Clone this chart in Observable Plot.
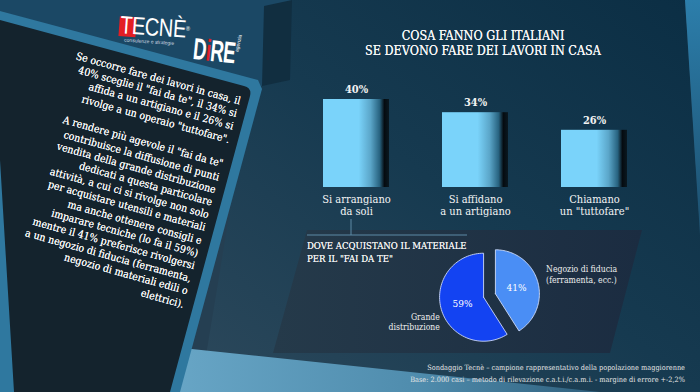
<!DOCTYPE html>
<html><head><meta charset="utf-8">
<script src="https://cdn.jsdelivr.net/npm/d3@7"></script>
<script src="https://cdn.jsdelivr.net/npm/@observablehq/plot@0.6"></script>
<style>
html,body{margin:0;padding:0;background:#223d50;}
#root{position:relative;width:700px;height:392px;overflow:hidden;font-family:"DejaVu Serif Condensed","DejaVu Serif",serif;color:#f2f2f2;}
.abs{position:absolute;}
#root svg{position:absolute;left:0;top:0;}
#lefttext{left:12px;top:95px;width:230px;text-align:right;white-space:nowrap;font-size:10.5px;line-height:13.2px;transform-origin:100% 0;transform:rotate(15.5deg);color:#f6f6f6;text-shadow:0 0 0.4px #fff;}
#lefttext p{margin:0 0 12.5px 0;}
#title{left:283px;top:27.5px;width:400px;text-align:center;font-size:12.5px;line-height:15px;color:#f6f6f6;text-shadow:0 0 0.5px #fff;}
#pietitle{left:307px;top:238.5px;font-size:9.5px;line-height:13px;color:#ececec;white-space:nowrap;text-shadow:0 0 0.4px #fff;}
#footer{right:15px;top:362px;text-align:right;font-size:7.3px;line-height:12px;color:#e6e6e6;white-space:nowrap;}
#tecne{left:118px;top:14px;width:80px;height:34px;transform-origin:0 0;transform:rotate(4deg);}
#dire{left:195px;top:33px;width:60px;height:36px;transform-origin:0 0;transform:rotate(6deg);}
</style></head><body><div id="root">
<svg width="700" height="392" viewBox="0 0 700 392">
  <defs>
    <linearGradient id="bgMain" x1="1" y1="0" x2="0" y2="1">
      <stop offset="0" stop-color="#0b2e44"/>
      <stop offset="0.5" stop-color="#163a50"/>
      <stop offset="1" stop-color="#2c485b"/>
    </linearGradient>
    <linearGradient id="stripGrad" x1="0" y1="0" x2="0" y2="1">
      <stop offset="0" stop-color="#2c7eab"/>
      <stop offset="1" stop-color="#1c4f6e"/>
    </linearGradient>
    <linearGradient id="bottomGrad" x1="0" y1="0" x2="1" y2="0">
      <stop offset="0" stop-color="#6aa8c8"/>
      <stop offset="0.6" stop-color="#4f8cad"/>
      <stop offset="1" stop-color="#2f5f7c"/>
    </linearGradient>
    <linearGradient id="piePanel" x1="0" y1="0" x2="1" y2="0">
      <stop offset="0" stop-color="#253a4a"/>
      <stop offset="1" stop-color="#1b2c41"/>
    </linearGradient>
  </defs>
  <rect width="700" height="392" fill="#253f52"/>
  <polygon points="262,0 685,0 700,230 700,392 200,392 235,180" fill="url(#bgMain)"/>
  <polygon points="685,0 700,0 700,235" fill="url(#stripGrad)"/>
  <polygon points="150,392 182,348 600,392" fill="url(#bottomGrad)"/>
  <polygon points="0,0 292,0 262,86 0,11" fill="#1b4865"/>
  <polygon points="264,6 292,0 290,80 262,86" fill="#112e40"/>
  <polygon points="0,11 258,80 262,89 180,392 0,392" fill="#2f789f"/>
  <path d="M0,20 L244,86 Q252,88 250,96 L170,392 L14,392 L0,160 Z" fill="#14232d"/>
  <polygon points="307,230 642,230 610,353 273,353" fill="url(#piePanel)"/>
  <line x1="351" y1="219" x2="351" y2="235" stroke="#5c8aa6" stroke-width="1"/>
  <line x1="307" y1="235" x2="467" y2="235" stroke="#5c8aa6" stroke-width="1"/>
</svg>
<div id="tecne" class="abs">
  <div style="position:absolute;left:2px;top:2px;width:17px;height:20px;background:#e31e24;"></div>
  <div style="position:absolute;left:3px;top:-4px;width:120px;white-space:nowrap;font-family:'Liberation Sans',sans-serif;font-size:25px;line-height:28px;color:#fff;letter-spacing:-0.5px;transform-origin:0 0;transform:scaleX(0.8);">TECNÈ<span style="font-size:7px;vertical-align:top;letter-spacing:0;">®</span></div>
  <div style="position:absolute;left:8px;top:22px;font-family:'Liberation Sans',sans-serif;font-size:5px;color:#cfd8e0;white-space:nowrap;">consulenze e strategie</div>
</div>
<div id="dire" class="abs">
  <div style="position:absolute;left:0;top:0;width:80px;white-space:nowrap;font-family:'Liberation Sans',sans-serif;font-weight:bold;font-size:30px;line-height:32px;color:#fff;letter-spacing:-1px;transform-origin:0 0;transform:scaleX(0.62);">D<span style="color:#e31e24;">i</span>RE</div>
  <div style="position:absolute;left:40px;top:14px;white-space:nowrap;font-family:'Liberation Sans',sans-serif;font-size:5px;color:#fff;transform-origin:0 0;transform:rotate(-84deg);">agenzia</div>
</div>
<div id="lefttext" class="abs">
<p>Se occorre fare dei lavori in casa, il<br>40% sceglie il "fai da te", il 34% si<br>affida a un artigiano e il 26% si<br>rivolge a un operaio "tuttofare".</p>
<p>A rendere più agevole il "fai da te"<br>contribuisce la diffusione di punti<br>vendita della grande distribuzione<br>dedicati a questa particolare<br>attività, a cui ci si rivolge non solo<br>per acquistare utensili e materiali<br>ma anche ottenere consigli e<br>imparare tecniche (lo fa il 59%)<br>mentre il 41% preferisce rivolgersi<br>a un negozio di fiducia (ferramenta,<br>negozio di materiali edili o<br>elettrici).</p>
</div>
<div id="title" class="abs">COSA FANNO GLI ITALIANI<br>SE DEVONO FARE DEI LAVORI IN CASA</div>
<div id="pietitle" class="abs">DOVE ACQUISTANO IL MATERIALE<br>PER IL "FAI DA TE"</div>
<div id="footer" class="abs">Sondaggio Tecnè – campione rappresentativo della popolazione maggiorenne<br>Base: 2.000 casi – metodo di rilevazione c.a.t.i./c.a.m.i. - margine di errore +-2,2%</div>
</div>
<script>
// ---- data ----
const categories = ["Si arrangiano\nda soli", "Si affidano\na un artigiano", "Chiamano\nun \"tuttofare\""];
const values = [40, 34, 26];
const valueLabels = ["40%", "34%", "26%"];
const pieCategories = ["Negozio di fiducia\n(ferramenta, ecc.)", "Grande\ndistribuzione"];
const pieValues = [41, 59];
const pieLabels = ["41%", "59%"];
const pieColors = ["#4a8ef5", "#1343f2"];

const font = "'DejaVu Serif Condensed','DejaVu Serif',serif";
const root = document.getElementById("root");

// ---- bar chart ----
const bars = categories.map((c, i) => ({cat: c, value: values[i], label: valueLabels[i]}));
const barPlot = Plot.plot({
  width: 700, height: 392, margin: 0,
  style: {background: "transparent", overflow: "visible", fontFamily: font},
  x: {domain: categories, range: [269, 682], padding: 0.442, axis: null},
  y: {domain: [0, 40], range: [187, 99], axis: null},
  marks: [
    Plot.barY(bars, {x: "cat", y: "value", fill: "url(#barGrad)"}),
    Plot.text(bars, {x: "cat", y: "value", text: "label", dy: -10, fill: "#f2f2f2", fontSize: 11, fontWeight: "bold"}),
    Plot.text(bars, {x: "cat", y: 0, text: "cat", dy: 6.5, lineAnchor: "top", lineHeight: 1.09, fontSize: 11, fill: "#f4f4f4"})
  ]
});
d3.select(barPlot).insert("defs", ":first-child").html(
  `<linearGradient id="barGrad" x1="0" y1="0" x2="1" y2="0">
     <stop offset="0" stop-color="#7ad3fa"/>
     <stop offset="0.54" stop-color="#7ad3fa"/>
     <stop offset="0.72" stop-color="#5ba6c9"/>
     <stop offset="0.86" stop-color="#27627f"/>
     <stop offset="0.93" stop-color="#050b10"/>
     <stop offset="1" stop-color="#0a1820"/>
   </linearGradient>`);
root.appendChild(barPlot);

// ---- pie chart ----
const arcs = d3.pie().sort(null).value(d => d)(pieValues);
const explode = 0.14;
const pieRows = [];
const pieText = [];
arcs.forEach((a, i) => {
  const mid = (a.startAngle + a.endAngle) / 2;
  const ox = explode * Math.sin(mid), oy = explode * Math.cos(mid);
  pieRows.push({slice: i, x: ox, y: oy});
  const n = 80;
  for (let k = 0; k <= n; k++) {
    const t = a.startAngle + (a.endAngle - a.startAngle) * k / n;
    pieRows.push({slice: i, x: ox + Math.sin(t), y: oy + Math.cos(t)});
  }
  pieRows.push({slice: i, x: ox, y: oy});
  pieText.push({
    slice: i,
    px: ox + 0.5 * Math.sin(mid), py: oy + 0.5 * Math.cos(mid),
    lx: ox + 1.2 * Math.sin(mid), ly: oy + 1.2 * Math.cos(mid),
    pct: pieLabels[i], name: pieCategories[i]
  });
});
const piePlot = Plot.plot({
  width: 700, height: 392, margin: 0,
  style: {background: "transparent", overflow: "visible", fontFamily: font},
  x: {domain: [-1, 1], range: [445, 533], axis: null},
  y: {domain: [-1, 1], range: [339, 251], axis: null},
  marks: [
    ...pieColors.map((c, i) => Plot.line(pieRows.filter(d => d.slice === i), {x: "x", y: "y", fill: c, stroke: "#d6e2ff", strokeWidth: 1, strokeOpacity: 0.85})),
    Plot.text(pieText, {x: "px", y: "py", text: "pct", fill: "#ffffff", fontSize: 10}),
    Plot.text(pieText.filter(d => d.slice === 0), {x: "lx", y: "ly", text: "name", textAnchor: "start", dy: -5, lineHeight: 1.25, fontSize: 8.6, fill: "#eeeeee"}),
    Plot.text(pieText.filter(d => d.slice === 1), {x: "lx", y: "ly", text: "name", textAnchor: "end", dx: 7, dy: 10, lineHeight: 1.2, fontSize: 8.6, fill: "#eeeeee"})
  ]
});
root.appendChild(piePlot);
</script>
</body></html>
